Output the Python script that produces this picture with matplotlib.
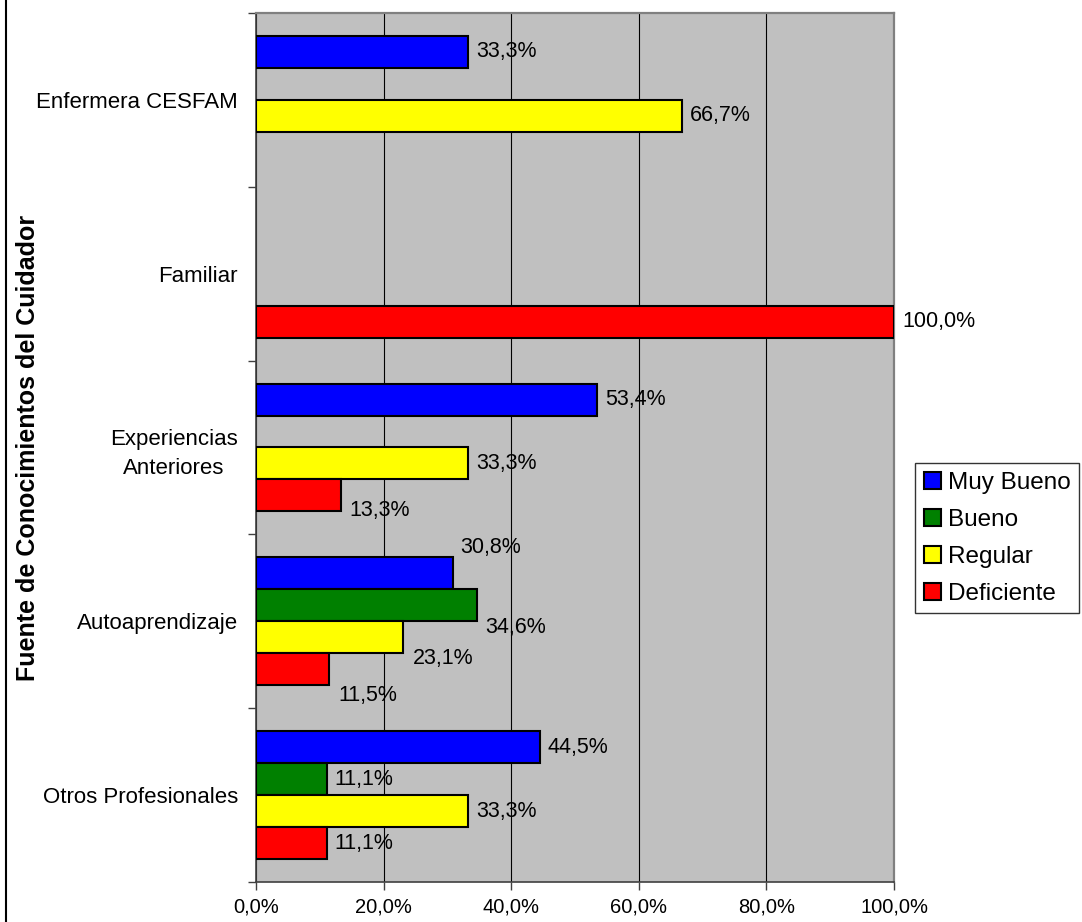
import matplotlib
matplotlib.use("Agg")
import matplotlib.pyplot as plt
from matplotlib.lines import Line2D
from matplotlib.patches import Patch
from matplotlib.ticker import FixedLocator, FuncFormatter, NullFormatter

plt.rcParams["font.family"] = ["Liberation Sans", "DejaVu Sans"]

# Data (percentages), categories listed from bottom to top
categories = ["Otros Profesionales", "Autoaprendizaje", "Experiencias\nAnteriores",
              "Familiar", "Enfermera CESFAM"]
series_names = ["Muy Bueno", "Bueno", "Regular", "Deficiente"]
muy_bueno = [44.5, 30.8, 53.4, 0.0, 33.3]
bueno = [11.1, 34.6, 0.0, 0.0, 0.0]
regular = [33.3, 23.1, 33.3, 0.0, 66.7]
deficiente = [11.1, 11.5, 13.3, 100.0, 0.0]
x_ticks = [0, 20, 40, 60, 80, 100]
y_label = "Fuente de Conocimientos del Cuidador"

series_values = [muy_bueno, bueno, regular, deficiente]
colors = ["#0000FF", "#008000", "#FFFF00", "#FF0000"]

# vertical slot of each series inside a category group (top to bottom)
slot_offsets = [0.276, 0.092, -0.092, -0.276]
bar_h = 0.184

# label nudges in pixels (dx, dy; dy positive upward) where labels were shifted
label_nudge = {
    (0, 1): (8, 26), (1, 1): (8, -22), (2, 1): (9, -21), (3, 1): (9, -26),
    (3, 2): (9, -15),
}

W, H = 1082, 922
fig = plt.figure(figsize=(W / 100, H / 100), dpi=100)
ax = fig.add_axes([256 / W, (H - 882) / H, (894 - 256) / W, (882 - 13) / H])
ax.set_facecolor("#C0C0C0")

for si, vals in enumerate(series_values):
    for ci, v in enumerate(vals):
        if v <= 0:
            continue
        y = ci + slot_offsets[si]
        ax.barh(y, v, height=bar_h, color=colors[si], edgecolor="black",
                linewidth=1.5, zorder=3)
        dx, dy = label_nudge.get((si, ci), (8, 0))
        ax.annotate(f"{v:.1f}%".replace(".", ","), xy=(v, y),
                    xytext=(dx, dy), textcoords="offset pixels",
                    ha="left", va="center", fontsize=15.5, zorder=4,
                    annotation_clip=False)

ax.set_xlim(0, 100)
ax.set_ylim(-0.5, len(categories) - 0.5)

# x axis
ax.xaxis.set_major_locator(FixedLocator(x_ticks))
ax.xaxis.set_major_formatter(FuncFormatter(lambda v, p: f"{v:.1f}%".replace(".", ",")))
ax.tick_params(axis="x", direction="out", length=6, width=1, color="#404040",
               labelsize=14.5, pad=5)
ax.grid(axis="x", color="black", linewidth=0.8, zorder=1)

# y axis: ticks at category boundaries, labels at centres
ax.yaxis.set_major_locator(FixedLocator([i - 0.5 for i in range(len(categories) + 1)]))
ax.yaxis.set_major_formatter(NullFormatter())
ax.yaxis.set_minor_locator(FixedLocator(list(range(len(categories)))))
ax.set_yticklabels(categories, minor=True)
ax.tick_params(axis="y", which="major", direction="out", length=6, width=1, color="#404040")
ax.tick_params(axis="y", which="minor", length=0, labelsize=16, pad=13)
for lbl in ax.get_yticklabels(minor=True):
    lbl.set_multialignment("center")
    lbl.set_linespacing(1.5)

for side in ["top", "right"]:
    ax.spines[side].set_color("#808080")
    ax.spines[side].set_linewidth(1.6)
for side in ["left", "bottom"]:
    ax.spines[side].set_color("#404040")
    ax.spines[side].set_linewidth(1.2)

fig.text(28 / W, 1 - 448 / H, y_label, rotation=90, ha="center", va="center",
         fontsize=18, fontweight="bold")

# figure frame line on the left
fig.add_artist(Line2D([6 / W, 6 / W], [0, 1], transform=fig.transFigure,
                      color="black", linewidth=1.5))

handles = [Patch(facecolor=c, edgecolor="black", linewidth=1.5) for c in colors]
leg = fig.legend(handles, series_names, loc="upper left",
                 bbox_to_anchor=(915 / W, 1 - 463 / H), fontsize=17.5,
                 frameon=True, fancybox=False, edgecolor="black",
                 handlelength=0.7, handleheight=0.7, handletextpad=0.3,
                 labelspacing=0.62, borderpad=0.35, borderaxespad=0)
leg.get_frame().set_linewidth(1.0)

fig.savefig("out.png", dpi=100, facecolor="white")
